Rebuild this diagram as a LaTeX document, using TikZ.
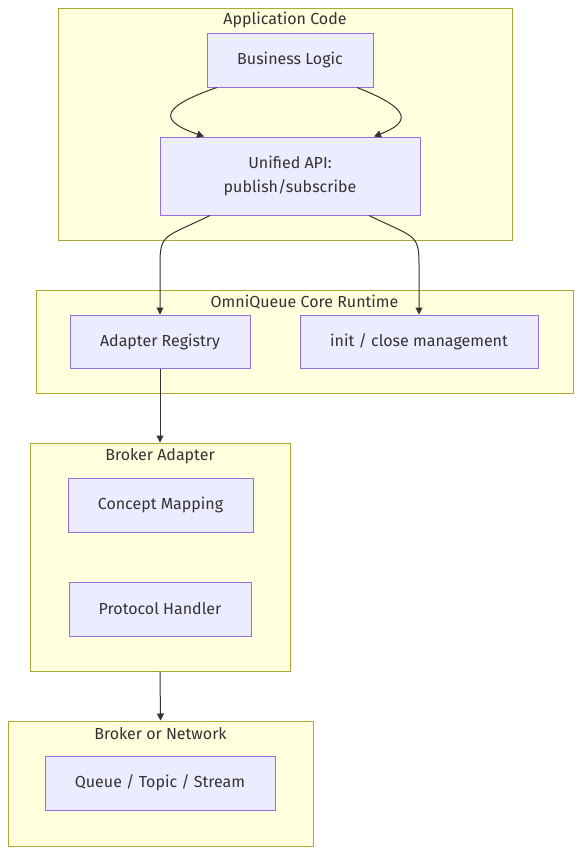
\documentclass[tikz,border=0pt]{standalone}
\usepackage{fontspec}
\setmainfont{Fira Sans}
\usetikzlibrary{arrows.meta}
\definecolor{clfill}{HTML}{FFFFDE}
\definecolor{cldraw}{HTML}{AAAA33}
\definecolor{ndfill}{HTML}{ECECFF}
\definecolor{nddraw}{HTML}{9370DB}
\definecolor{txt}{HTML}{333333}
\begin{document}
\begin{tikzpicture}[x=1pt,y=-1pt,
  every node/.style={font=\fontsize{16}{24}\selectfont, text=txt},
  cluster/.style={draw=cldraw, fill=clfill, line width=1pt, rectangle, inner sep=0pt},
  box/.style={draw=nddraw, fill=ndfill, line width=1pt, rectangle, inner sep=0pt, align=center},
  title/.style={inner sep=0pt},
  conn/.style={draw=txt, line width=1pt, -{Triangle[length=7pt,width=7pt]}}]
\useasboundingbox[fill=white] (0,0) rectangle (581,854);
% clusters
\node[cluster, minimum width=454pt, minimum height=232pt] (app) at (285,124) {};
\node[cluster, minimum width=537pt, minimum height=103pt] (core) at (304.5,341.5) {};
\node[cluster, minimum width=260pt, minimum height=228pt] (ba) at (160,557) {};
\node[cluster, minimum width=305pt, minimum height=125pt] (bn) at (160.5,783.5) {};
\node[title] (tapp) at (285,20) {Application Code};
\node[title] (tcore) at (304.5,302) {OmniQueue Core Runtime};
\node[title] (tba) at (160,456) {Broker Adapter};
\node[title] (tbn) at (160.5,734) {Broker or Network};
% nodes
\node[box, minimum width=166pt, minimum height=54pt] (bl) at (290,60) {Business Logic};
\node[box, minimum width=260pt, minimum height=78pt] (api) at (290,176) {Unified API:\\publish/subscribe};
\node[box, minimum width=180pt, minimum height=53pt] (reg) at (160,341.5) {Adapter Registry};
\node[box, minimum width=238pt, minimum height=53pt] (init) at (419,341.5) {init / close management};
\node[box, minimum width=185pt, minimum height=54pt] (cm) at (160.5,505) {Concept Mapping};
\node[box, minimum width=182pt, minimum height=54pt] (ph) at (160,609) {Protocol Handler};
\node[box, minimum width=230pt, minimum height=54pt] (qts) at (160,783) {Queue / Topic / Stream};
% connectors
\coordinate (bl1) at ([xshift=-73pt]bl.south);
\coordinate (bl2) at ([xshift=67pt]bl.south);
\coordinate (api1) at ([xshift=-86pt]api.north);
\coordinate (api2) at ([xshift=84pt]api.north);
\draw[conn] (bl1) .. controls +(-64,22) and +(-40,-14) .. (api1);
\draw[conn] (bl2) .. controls +(56,22) and +(36,-14) .. (api2);
\coordinate (api3) at ([xshift=-80pt]api.south);
\coordinate (api4) at ([xshift=79pt]api.south);
\draw[conn] (api3) .. controls +(-45,22) and +(0,-30) .. ++(-50,48) -- (reg.north);
\draw[conn] (api4) .. controls +(45,22) and +(0,-30) .. ++(50,48) -- (init.north);
\draw[conn] (reg.south) -- (ba.north);
\draw[conn] (ba.south) -- (bn.north);
\end{tikzpicture}
\end{document}
